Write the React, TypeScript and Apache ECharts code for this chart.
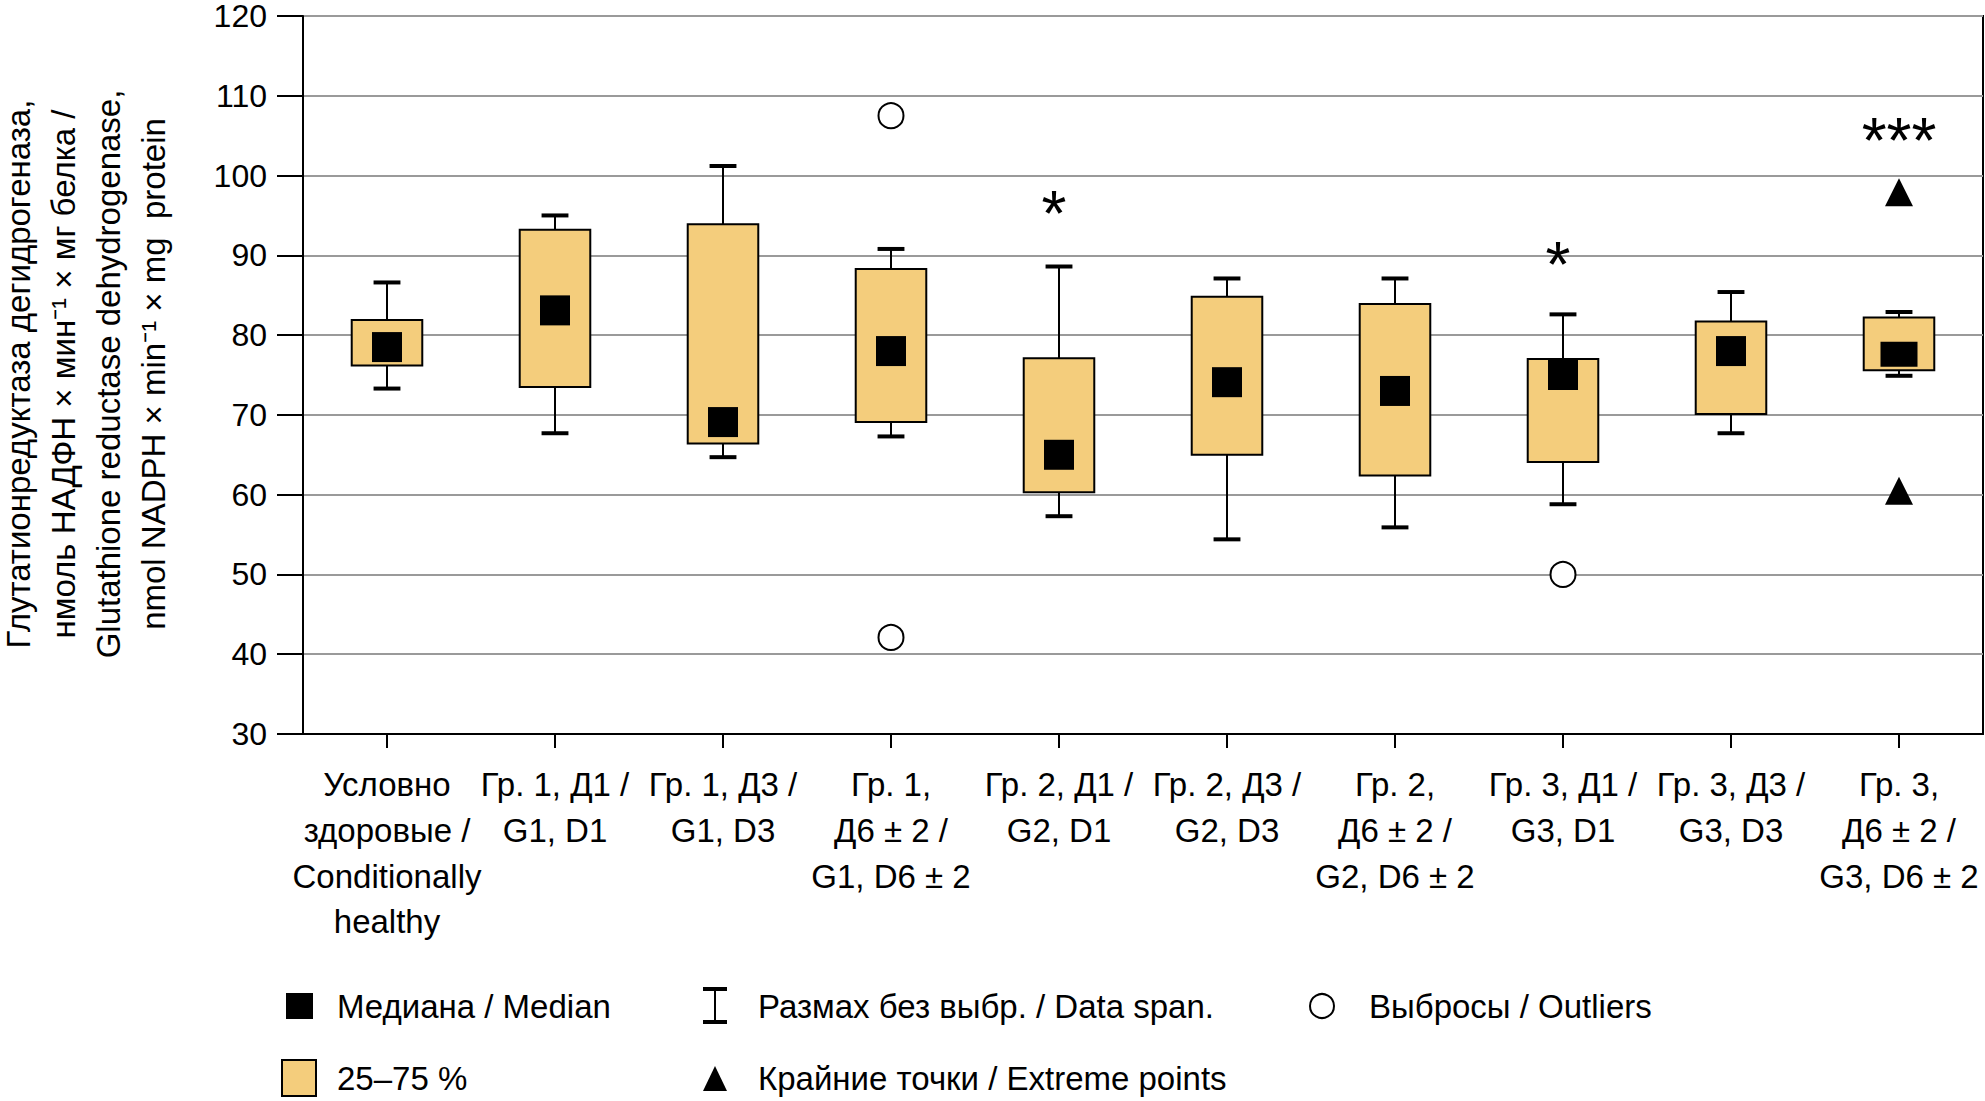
import React, { useEffect, useRef } from "react";
import * as echarts from "echarts";

const categories = [
  "Условно\nздоровые /\nConditionally\nhealthy",
  "Гр. 1, Д1 /\nG1, D1",
  "Гр. 1, Д3 /\nG1, D3",
  "Гр. 1,\nД6 ± 2 /\nG1, D6 ± 2",
  "Гр. 2, Д1 /\nG2, D1",
  "Гр. 2, Д3 /\nG2, D3",
  "Гр. 2,\nД6 ± 2 /\nG2, D6 ± 2",
  "Гр. 3, Д1 /\nG3, D1",
  "Гр. 3, Д3 /\nG3, D3",
  "Гр. 3,\nД6 ± 2 /\nG3, D6 ± 2",
];

const whiskerLow = [73.3, 67.7, 64.7, 67.3, 57.3, 54.4, 55.9, 58.8, 67.7, 74.9];
const q1 = [76.2, 73.5, 66.4, 69.1, 60.3, 65.0, 62.4, 64.1, 70.1, 75.6];
const median = [78.5, 83.1, 69.1, 78.0, 65.0, 74.1, 73.0, 75.0, 78.0, 77.6];
const q3 = [81.9, 93.2, 93.9, 88.3, 77.1, 84.8, 83.9, 77.0, 81.7, 82.2];
const whiskerHigh = [86.6, 95.0, 101.2, 90.8, 88.6, 87.1, 87.1, 82.6, 85.4, 82.9];

const outliers: [number, number][] = [
  [3, 107.5],
  [3, 42.1],
  [7, 50.0],
];
const extremes: [number, number][] = [
  [9, 97.9],
  [9, 60.5],
];
const sigPositions: [number, number][] = [
  [4, 95.8],
  [7, 89.4],
  [9, 104.7],
];
const sigMarks = ["*", "*", "***"];

const yTicks = { min: 30, max: 120, interval: 10 };

const FONT = "'Liberation Sans', Arial, sans-serif";
const BOX_FILL = "#F4CD7C";

export default function App() {
  const ref = useRef<HTMLDivElement>(null);

  useEffect(() => {
    if (!ref.current) return;
    const chart = echarts.init(ref.current, undefined, { renderer: "svg" });

    const boxData = categories.map((_, i) => [i, whiskerLow[i], q1[i], q3[i], whiskerHigh[i]]);
    const medianData = median.map((v, i) =>
      i === 9 ? { value: [i, v], symbolSize: [37, 25] } : { value: [i, v] }
    );
    const sigData = sigPositions.map((p, i) => ({
      value: p,
      label: { offset: sigMarks[i].length === 1 ? [-5, 5] : [0, 3] },
    }));

    const option: any = {
      animation: false,
      backgroundColor: "#fff",
      textStyle: { fontFamily: FONT, color: "#000" },
      grid: {
        left: 303,
        right: 2,
        top: 15,
        bottom: 367,
        show: true,
        borderColor: "#000",
        borderWidth: 2,
        backgroundColor: "transparent",
      },
      xAxis: {
        type: "category",
        data: categories,
        boundaryGap: true,
        axisLine: { show: true, lineStyle: { color: "#000", width: 2 } },
        axisTick: { show: true, alignWithLabel: true, length: 14, lineStyle: { color: "#000", width: 2 } },
        axisLabel: {
          interval: 0,
          margin: 28,
          fontSize: 33,
          lineHeight: 45.6,
          color: "#000",
          fontFamily: FONT,
          align: "center",
        },
        splitLine: { show: false },
      },
      yAxis: {
        type: "value",
        min: yTicks.min,
        max: yTicks.max,
        interval: yTicks.interval,
        axisLine: { show: true, lineStyle: { color: "#000", width: 2 } },
        axisTick: { show: true, length: 26, lineStyle: { color: "#000", width: 2 } },
        axisLabel: { margin: 36, fontSize: 32, lineHeight: 30, color: "#000", fontFamily: FONT },
        splitLine: { show: true, lineStyle: { color: "#9a9a9a", width: 2 } },
      },
      series: [
        {
          type: "custom",
          z: 2,
          data: boxData,
          encode: { x: 0, y: [1, 2, 3, 4] },
          renderItem: (params: any, api: any) => {
            const x = api.value(0);
            const low = api.coord([x, api.value(1)]);
            const qa = api.coord([x, api.value(2)]);
            const qb = api.coord([x, api.value(3)]);
            const high = api.coord([x, api.value(4)]);
            const band = api.size([1, 0])[0];
            const bw = band * 0.42;
            const cw = band * 0.16;
            const cx = low[0];
            const s1 = { stroke: "#000", lineWidth: 2 };
            const s2 = { stroke: "#000", lineWidth: 4 };
            return {
              type: "group",
              children: [
                { type: "line", shape: { x1: cx, y1: high[1], x2: cx, y2: qb[1] }, style: s1 },
                { type: "line", shape: { x1: cx, y1: qa[1], x2: cx, y2: low[1] }, style: s1 },
                { type: "line", shape: { x1: cx - cw / 2, y1: high[1], x2: cx + cw / 2, y2: high[1] }, style: s2 },
                { type: "line", shape: { x1: cx - cw / 2, y1: low[1], x2: cx + cw / 2, y2: low[1] }, style: s2 },
                {
                  type: "rect",
                  shape: { x: cx - bw / 2, y: qb[1], width: bw, height: qa[1] - qb[1] },
                  style: { fill: BOX_FILL, stroke: "#000", lineWidth: 2 },
                },
              ],
            };
          },
        },
        {
          type: "scatter",
          z: 3,
          symbol: "rect",
          symbolSize: 30,
          itemStyle: { color: "#000", opacity: 1 },
          data: medianData,
        },
        {
          type: "scatter",
          z: 3,
          symbol: "circle",
          symbolSize: 25,
          itemStyle: { color: "#fff", borderColor: "#000", borderWidth: 2, opacity: 1 },
          data: outliers,
        },
        {
          type: "scatter",
          z: 3,
          symbol: "triangle",
          symbolSize: 28,
          itemStyle: { color: "#000", opacity: 1 },
          data: extremes,
        },
        {
          type: "scatter",
          z: 4,
          symbolSize: 2,
          itemStyle: { color: "transparent", opacity: 1 },
          data: sigData,
          label: {
            show: true,
            position: "inside",
            formatter: (p: any) => sigMarks[p.dataIndex],
            fontSize: 64,
            fontFamily: FONT,
            color: "#000",
          },
        },
      ],
      graphic: [
        {
          type: "text",
          x: 86,
          y: 374,
          rotation: Math.PI / 2,
          style: {
            text:
              "Глутатионредуктаза дегидрогеназа,\nнмоль НАДФН × мин⁻¹ × мг белка /\nGlutathione reductase dehydrogenase,\nnmol NADPH × min⁻¹ × mg  protein",
            font: `33px ${FONT}`,
            fill: "#000",
            textAlign: "center",
            textVerticalAlign: "middle",
            lineHeight: 45,
          },
        },
        { type: "rect", shape: { x: 286, y: 993, width: 27, height: 26 }, style: { fill: "#000" } },
        { type: "text", x: 337, y: 1006, style: { text: "Медиана / Median", font: `33px ${FONT}`, fill: "#000", textVerticalAlign: "middle" } },
        { type: "rect", shape: { x: 282, y: 1060, width: 34, height: 36 }, style: { fill: BOX_FILL, stroke: "#000", lineWidth: 2 } },
        { type: "text", x: 337, y: 1078, style: { text: "25–75 %", font: `33px ${FONT}`, fill: "#000", textVerticalAlign: "middle" } },
        { type: "line", shape: { x1: 715, y1: 989, x2: 715, y2: 1022 }, style: { stroke: "#000", lineWidth: 2 } },
        { type: "line", shape: { x1: 703, y1: 989, x2: 727, y2: 989 }, style: { stroke: "#000", lineWidth: 4 } },
        { type: "line", shape: { x1: 703, y1: 1022, x2: 727, y2: 1022 }, style: { stroke: "#000", lineWidth: 4 } },
        { type: "text", x: 758, y: 1006, style: { text: "Размах без выбр. / Data span.", font: `33px ${FONT}`, fill: "#000", textVerticalAlign: "middle" } },
        { type: "polygon", shape: { points: [[715, 1066], [703, 1091], [727, 1091]] }, style: { fill: "#000" } },
        { type: "text", x: 758, y: 1078, style: { text: "Крайние точки / Extreme points", font: `33px ${FONT}`, fill: "#000", textVerticalAlign: "middle" } },
        { type: "circle", shape: { cx: 1322, cy: 1006, r: 12 }, style: { fill: "#fff", stroke: "#000", lineWidth: 2 } },
        { type: "text", x: 1369, y: 1006, style: { text: "Выбросы / Outliers", font: `33px ${FONT}`, fill: "#000", textVerticalAlign: "middle" } },
      ],
    };

    chart.setOption(option);
    return () => chart.dispose();
  }, []);

  return (
    <div
      ref={ref}
      style={{ position: "absolute", left: 0, top: 0, width: 1985, height: 1101, background: "#fff" }}
    />
  );
}
